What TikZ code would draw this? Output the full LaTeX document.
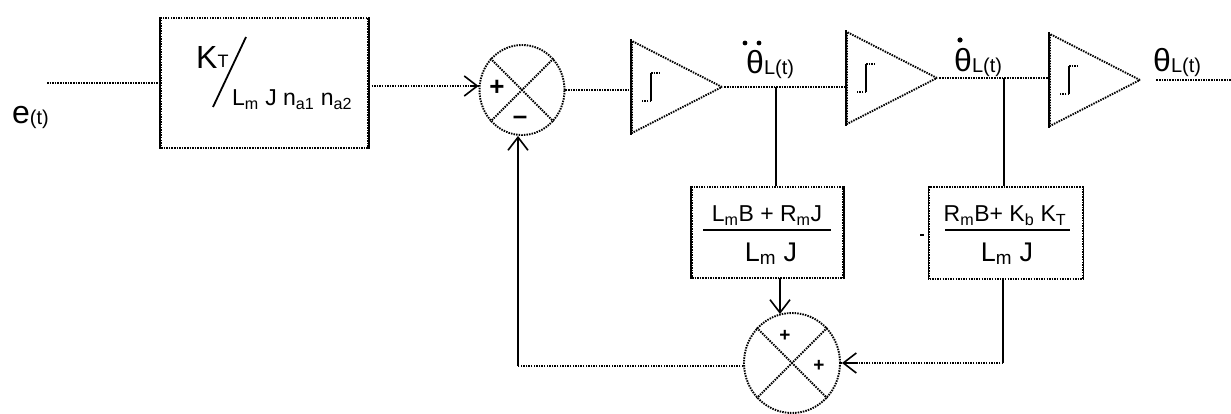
\documentclass[tikz,border=0pt]{standalone}
\usepackage{fontspec}
\setmainfont{Liberation Sans}
\usetikzlibrary{shapes.geometric,arrows.meta}
\tikzset{
  dots/.style={line width=1.9pt,dash pattern=on 1.5pt off 1.1pt},
  solidline/.style={line width=1.5pt},
  tipline/.style={line width=1.5pt,-{Straight Barb[length=13pt,width=20pt,line width=1.6pt]}},
  block/.style={draw,dots,rectangle,inner sep=0pt},
  summer/.style={draw,dots,ellipse,inner sep=0pt},
  gain/.style={draw,dots,isosceles triangle,isosceles triangle stretches,inner sep=0pt,minimum width=92pt,minimum height=90pt,anchor=lower side},
  lab/.style={inner sep=0pt,font=\fontsize{23}{25}\selectfont},
  big/.style={inner sep=0pt,font=\fontsize{32}{34}\selectfont},
  sign/.style={inner sep=0pt,font=\bfseries\fontsize{26}{28}\selectfont},
  smallsign/.style={inner sep=0pt,font=\bfseries\fontsize{19}{21}\selectfont}
}
\newcommand{\subs}[1]{\raisebox{-1pt}{\fontsize{20}{22}\selectfont #1}}
\newcommand{\intmark}[1]{%
  \draw[solidline] ([xshift=20pt,yshift=14pt]#1) -- ([xshift=20pt,yshift=-14pt]#1);
  \draw[dots] ([xshift=20pt,yshift=14pt]#1) -- ([xshift=28pt,yshift=14pt]#1);
  \draw[dots] ([xshift=20pt,yshift=-14pt]#1) -- ([xshift=11pt,yshift=-14pt]#1);
}
\begin{document}
\begin{tikzpicture}[x=1pt,y=-1pt]
\useasboundingbox (0,0) rectangle (1231,414);
\fill[white] (0,0) rectangle (1231,414);

% blocks
\node[block,minimum width=207pt,minimum height=130pt] (gainbox) at (264.5,83) {};
\node[block,minimum width=151pt,minimum height=91pt] (boxa) at (767.5,232.5) {};
\node[block,minimum width=153pt,minimum height=92pt] (boxb) at (1006,233) {};
\draw[solidline] (gainbox.north west) -- (gainbox.south west);
\draw[solidline] (gainbox.north east) -- (gainbox.south east);
\draw[solidline] (boxa.north west) -- (boxa.south west);
\draw[solidline] (boxa.north east) -- (boxa.south east);
\draw[solidline] (boxb.north west) -- (boxb.south west);
\draw[solidline] (boxb.north east) -- (boxb.south east);

% summing junctions
\node[summer,minimum width=85pt,minimum height=90pt] (sumA) at (522,90) {};
\node[summer,minimum width=96pt,minimum height=100pt] (sumB) at (792,363) {};
\foreach \s in {sumA,sumB}{
  \draw[dots] (\s.45) -- (\s.225);
  \draw[dots] (\s.135) -- (\s.315);
}
\node[sign] (plusA) at (497,88) {+};
\node[sign] (minusA) at (520,120) {\textendash};
\node[smallsign] (plusB) at (785,336) {+};
\node[smallsign] (plusC) at (819,366) {+};

% integrators
\node[gain] (intA) at (631,87) {};
\node[gain] (intB) at (846,78) {};
\node[gain] (intC) at (1049,80) {};
\foreach \t in {intA,intB,intC}{
  \draw[solidline] (\t.left corner) -- (\t.right corner);
  \intmark{\t.lower side}
}

% forward path
\coordinate (inp) at (47,83);
\coordinate (outp) at (1231,80);
\coordinate (tapA) at (776,87);
\coordinate (tapB) at (1004,78);
\draw[dots] (inp) -- (inp -| gainbox.west);
\draw[dots] (gainbox.east |- 0,86) -- (sumA.west |- 0,86);
\draw[tipline] (470,86) -- (sumA.west |- 0,86);
\draw[dots] (sumA.east) -- (intA.lower side |- sumA.east);
\draw[dots] (intA.apex) -- (intB.lower side |- intA.apex);
\draw[dots] (intB.apex) -- (intC.lower side |- intB.apex);
\draw[dots] ([xshift=14pt]intC.apex) -- (outp);

% feedback
\coordinate (fbcorner) at (518,366);
\coordinate (rcorner) at (1003,363);
\draw[solidline] (tapA) -- (tapA |- boxa.north);
\draw[solidline] (tapB) -- (tapB |- boxb.north);
\draw[tipline] (780,278) -- (780,314);
\draw[solidline] (rcorner |- boxb.south) -- (rcorner);
\draw[dots] (rcorner) -- (sumB.east |- rcorner);
\draw[tipline] (858,363) -- (842,363);
\draw[dots] (sumB.west |- fbcorner) -- (fbcorner);
\draw[tipline] (fbcorner) -- (fbcorner |- sumA.south);

% labels
\node[big,anchor=base west] (lbE) at (12,124) {e\subs{(t)}};
\node[big,anchor=base west] (lbK) at (196,69) {K\raisebox{1pt}{\fontsize{18}{20}\selectfont T}};
\coordinate (sa) at (246,37);
\coordinate (sb) at (213,107);
\draw[line width=1.8pt] (sa) -- (sb);
\node[lab,anchor=base west] (lbD) at (232,106) {L\textsubscript{m} J n\textsubscript{a1} n\textsubscript{a2}};
\node[big,anchor=base west] (lbT2) at (746,74) {θ\subs{L(t)}};
\node[big,anchor=base west] (lbT1) at (954,72) {θ\subs{L(t)}};
\node[big,anchor=base west] (lbT0) at (1153,72) {θ\subs{L(t)}};
\fill (745,43) circle (2.4pt);
\fill (759,43) circle (2.4pt);
\fill (960,40) circle (2.6pt);

\node[lab,anchor=base] (na) at (767,222) {L\textsubscript{m}B + R\textsubscript{m}J};
\draw[line width=1.8pt] (703,230) -- (831,230);
\node[lab,font=\fontsize{27}{29}\selectfont,anchor=base] (da) at (771,261) {L\textsubscript{m} J};
\node[lab,anchor=base] (nb) at (1005,222) {R\textsubscript{m}B+ K\textsubscript{b} K\textsubscript{T}};
\draw[line width=1.8pt] (945,230) -- (1070,230);
\node[lab,font=\fontsize{27}{29}\selectfont,anchor=base] (db) at (1007,261) {L\textsubscript{m} J};
\draw[line width=1.8pt] (920,235) -- (924,235);
\end{tikzpicture}
\end{document}
